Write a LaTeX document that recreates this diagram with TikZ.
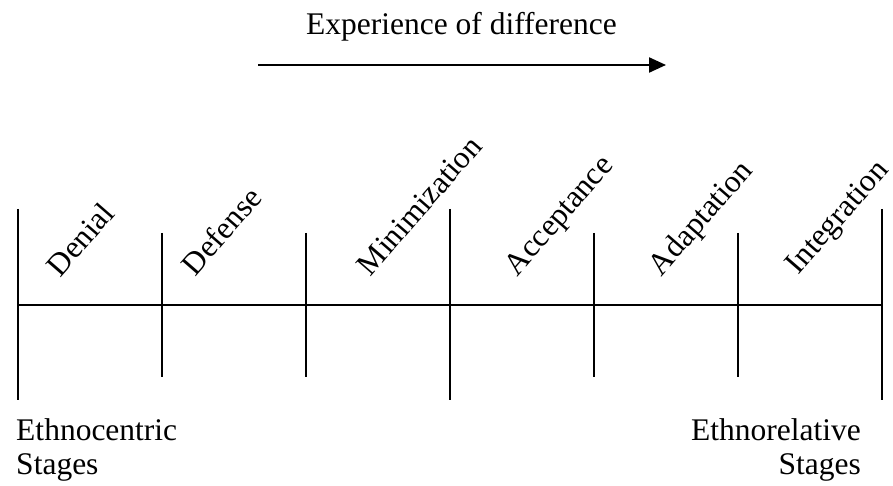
\documentclass[tikz,border=0pt]{standalone}
\usepackage{fontspec}
\setmainfont{Liberation Serif}
\usetikzlibrary{arrows.meta}
\tikzset{
  lbl/.style={inner sep=0pt, font=\fontsize{31.5}{36}\selectfont},
  stage/.style={lbl, rotate=49, anchor=base west},
  tick/.style={line width=2.5pt},
}
\begin{document}
\begin{tikzpicture}[x=1pt,y=-1pt,line width=2.5pt]
\useasboundingbox (0,0) rectangle (893,486);
% title and arrow
\node[lbl, anchor=base] (title) at (461.5,35) {Experience of difference};
\coordinate (a0) at (258,65);
\coordinate (a1) at (666,65);
\draw[line width=2.2pt, -{Triangle[length=17pt,width=15pt]}] (a0) -- (a1);
% axis
\coordinate (h0) at (18,305);
\coordinate (h1) at (882,305);
\draw (h0) -- (h1);
% ticks
\foreach \n/\x/\t/\b in {0/18/209/400, 1/162/233/377, 2/306/233/377, 3/450/209/400, 4/594/233/377, 5/738/233/377, 6/882/209/400}{
  \coordinate (t\n a) at (\x,\t);
  \coordinate (t\n b) at (\x,\b);
  \draw[tick] (t\n a) -- (t\n b);
}
% stage labels
\node[stage] (denial) at (60,279) {Denial};
\node[stage] (defense) at (195,278) {Defense};
\node[stage] (minim) at (370,278) {Minimization};
\node[stage] (accept) at (517,278) {Acceptance};
\node[stage] (adapt) at (661,278) {Adaptation};
\node[stage] (integ) at (798,276) {Integration};
% bottom labels
\node[lbl, anchor=base west] (ec1) at (15,440) {Ethnocentric};
\node[lbl, anchor=base west] (ec2) at (15,474) {Stages};
\node[lbl, anchor=base east] (er1) at (862,440) {Ethnorelative};
\node[lbl, anchor=base east] (er2) at (862,474) {Stages};
\end{tikzpicture}
\end{document}
